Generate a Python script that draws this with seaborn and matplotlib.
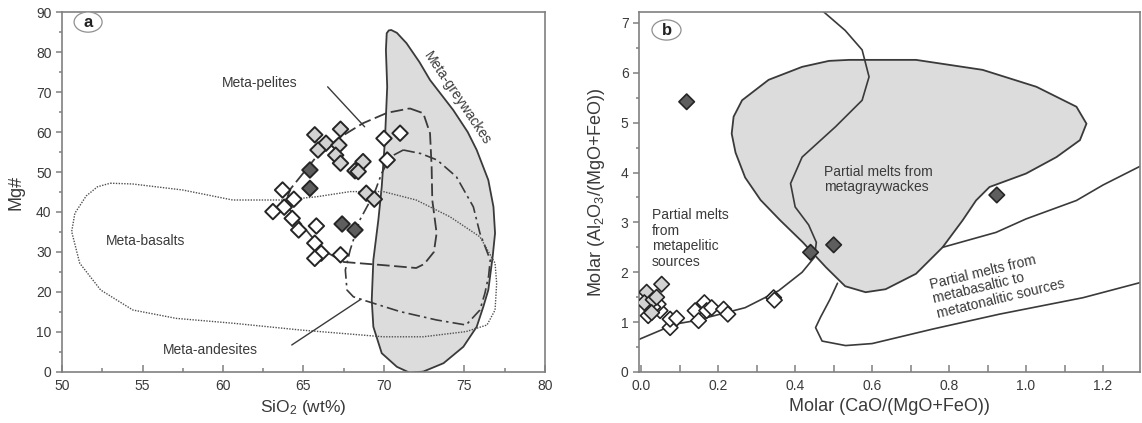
import numpy as np
import pandas as pd
import matplotlib
matplotlib.use("Agg")
import matplotlib.pyplot as plt
from matplotlib.patches import Ellipse, Polygon
from matplotlib.ticker import MultipleLocator, FormatStrFormatter
import seaborn as sns

# ---------------- sample data ----------------
# (a) SiO2 vs Mg#
a_light_x = [65.7, 67.3, 66.4, 65.9, 67.2, 67.0, 67.3, 68.7, 68.2, 68.4, 68.9, 69.4]
a_light_y = [59.3, 60.7, 57.2, 55.5, 56.7, 54.2, 52.2, 52.6, 50.3, 50.1, 44.7, 43.2]
a_white_x = [70.0, 71.0, 70.2, 63.7, 64.4, 63.8, 63.1, 64.3, 64.7, 65.8, 65.7, 66.1, 65.7, 67.3]
a_white_y = [58.4, 59.7, 53.0, 45.5, 43.2, 41.2, 40.1, 38.4, 35.5, 36.5, 32.2, 29.7, 28.4, 29.3]
a_dark_x = [65.4, 65.4, 67.4, 68.2]
a_dark_y = [50.5, 45.9, 37.0, 35.5]

# (b) molar CaO/(MgO+FeO) vs Al2O3/(MgO+FeO)
b_white_x = [0.049, 0.018, 0.075, 0.075, 0.092, 0.140, 0.149, 0.164, 0.170, 0.183,
             0.214, 0.225, 0.344, 0.346, 0.044, 0.030]
b_white_y = [1.23, 1.13, 0.89, 1.06, 1.08, 1.23, 1.03, 1.39, 1.23, 1.29,
             1.26, 1.16, 1.49, 1.44, 1.36, 1.30]
b_light_x = [0.014, 0.053, 0.008, 0.031, 0.027, 0.040]
b_light_y = [1.60, 1.76, 1.39, 1.45, 1.19, 1.50]
b_dark_x = [0.118, 0.440, 0.500, 0.924]
b_dark_y = [5.42, 2.40, 2.55, 3.55]

# ---------------- source-field outlines ----------------
greywacke_a = [(70.45, 85.5), (70.8, 84.8), (71.4, 82.2), (72.2, 77.5), (72.86, 73.0),
               (74.3, 65.5), (75.2, 60.0), (75.76, 55.5), (76.48, 48.0), (76.8, 41.3),
               (76.9, 34.7), (76.75, 28.8), (76.48, 20.5), (76.17, 16.3), (75.76, 11.3),
               (74.93, 6.3), (73.7, 2.2), (72.44, 0.1), (71.6, -0.2), (70.8, 1.3),
               (69.86, 4.7), (69.34, 11.3), (69.24, 18.0), (69.34, 28.0), (69.65, 38.0),
               (69.86, 46.3), (70.06, 58.0), (70.2, 71.3), (70.12, 80.5), (70.17, 84.7),
               (70.3, 85.4)]
pelites_a = [(71.6, 65.9), (72.44, 64.7), (72.86, 59.7), (72.96, 51.3), (73.0, 43.0),
             (73.27, 34.7), (73.1, 30.0), (72.5, 27.0), (72.0, 26.0), (70.0, 26.7),
             (67.5, 27.5), (66.2, 30.5), (65.0, 36.3), (64.4, 39.2), (63.85, 42.2),
             (64.2, 45.8), (65.8, 53.8), (67.2, 58.5), (68.7, 62.2), (70.2, 64.8),
             (71.6, 65.9)]
andesites_a = [(71.2, 55.5), (72.3, 54.6), (73.3, 53.0), (74.5, 48.8), (75.55, 41.3),
               (75.96, 34.7), (76.6, 28.0), (76.5, 24.0), (76.27, 19.7), (75.96, 15.5),
               (75.1, 11.75), (73.27, 13.0), (71.0, 15.1), (68.7, 18.0), (68.1, 18.8),
               (67.7, 20.5), (67.6, 25.5), (67.9, 30.5), (68.5, 38.0), (69.4, 44.7),
               (69.86, 49.7), (70.4, 53.8), (71.2, 55.5)]
basalts_a = [(53.0, 47.2), (54.4, 47.0), (57.5, 45.5), (60.6, 43.0), (63.75, 43.0),
             (65.8, 43.8), (67.9, 45.1), (69.96, 45.1), (72.0, 43.0), (74.1, 38.8),
             (75.96, 33.8), (76.9, 27.2), (77.0, 22.2), (76.9, 15.5), (76.4, 11.75),
             (75.1, 10.1), (72.44, 8.8), (69.96, 8.8), (64.8, 10.5), (60.6, 12.2),
             (57.1, 13.4), (54.4, 15.5), (52.4, 20.5), (51.1, 27.2), (50.6, 35.1),
             (50.8, 39.7), (51.5, 44.0), (52.2, 46.3), (53.0, 47.2)]

greywacke_b = [(0.235, 4.78), (0.240, 5.12), (0.262, 5.45), (0.331, 5.86), (0.418, 6.12),
               (0.488, 6.24), (0.540, 6.26), (0.714, 6.26), (0.887, 6.06), (1.027, 5.72),
               (1.131, 5.32), (1.157, 4.98), (1.140, 4.65), (1.079, 4.31), (1.000, 3.98),
               (0.905, 3.71), (0.870, 3.44), (0.835, 3.04), (0.783, 2.50), (0.714, 1.97),
               (0.635, 1.66), (0.583, 1.60), (0.530, 1.72), (0.480, 2.10), (0.420, 2.60),
               (0.360, 3.05), (0.310, 3.45), (0.270, 3.90), (0.245, 4.40)]
pelitic_b = [(0.47, 7.25), (0.53, 6.85), (0.574, 6.46), (0.592, 5.92), (0.574, 5.45),
             (0.505, 4.92), (0.418, 4.31), (0.388, 3.78), (0.400, 3.31), (0.435, 2.95),
             (0.455, 2.60), (0.450, 2.30), (0.418, 2.00), (0.357, 1.63), (0.270, 1.29),
             (0.140, 1.03), (0.088, 0.96), (-0.01, 0.64)]
basaltic_upper_b = [(0.783, 2.50), (0.922, 2.80), (1.000, 3.07), (1.131, 3.44),
                    (1.200, 3.75), (1.300, 4.14)]
basaltic_lower_b = [(0.510, 1.78), (0.490, 1.45), (0.466, 1.10), (0.453, 0.89),
                    (0.470, 0.62), (0.531, 0.53), (0.600, 0.57), (0.757, 0.86),
                    (0.931, 1.16), (1.148, 1.49), (1.300, 1.80)]

# ---------------- style ----------------
sns.set_theme(style="ticks")
plt.rcParams["font.family"] = ["Liberation Sans", "DejaVu Sans"]
plt.rcParams["mathtext.fontset"] = "custom"
plt.rcParams["mathtext.rm"] = "Liberation Sans"
plt.rcParams["mathtext.it"] = "Liberation Sans:italic"

EDGE = "#3a3a3a"
FILL = "#dcdcdc"
SPINE = "#808080"
TXT = "#3a3a3a"
palette = {"light": "#d2d2d2", "white": "#ffffff", "dark": "#5e5e5e"}


def samples(xw, yw, xl, yl, xd, yd):
    return pd.DataFrame({
        "x": list(xw) + list(xl) + list(xd),
        "y": list(yw) + list(yl) + list(yd),
        "group": ["white"] * len(xw) + ["light"] * len(xl) + ["dark"] * len(xd),
    })


def style_axes(ax):
    for sp in ax.spines.values():
        sp.set_visible(True)
        sp.set_color(SPINE)
        sp.set_linewidth(1.2)
    ax.tick_params(axis="both", which="both", colors=SPINE, labelcolor=TXT,
                   labelsize=10, width=1.1)
    ax.tick_params(axis="y", which="major", direction="out", length=4)
    ax.tick_params(axis="y", which="minor", direction="out", length=2)
    ax.tick_params(axis="x", which="major", direction="in", length=5, pad=5)
    ax.tick_params(axis="x", which="minor", direction="in", length=3)


def panel_tag(ax, letter, cx, cy):
    ax.add_patch(Ellipse((cx, cy), 0.058, 0.056, transform=ax.transAxes,
                         facecolor="white", edgecolor="#909090", lw=0.9, zorder=6))
    ax.text(cx, cy, letter, transform=ax.transAxes, ha="center", va="center",
            fontsize=12, fontweight="bold", color="#222222", zorder=7)


fig = plt.figure(figsize=(11.42, 4.23), dpi=100)
ax1 = fig.add_axes([0.0543, 0.1206, 0.4229, 0.8510])
ax2 = fig.add_axes([0.5595, 0.1206, 0.4387, 0.8510])

# ---------------- panel (a) ----------------
ax1.add_patch(Polygon(greywacke_a, closed=True, facecolor=FILL, edgecolor=EDGE,
                      lw=1.3, zorder=1))
px, py = zip(*pelites_a)
ax1.plot(px, py, color=EDGE, lw=1.3, dashes=(7, 2.5), zorder=2)
px, py = zip(*andesites_a)
ax1.plot(px, py, color=EDGE, lw=1.2, dashes=(7, 2.5, 1.5, 2.5), zorder=2)
px, py = zip(*basalts_a)
ax1.plot(px, py, color="#505050", lw=1.0, dashes=(1, 1), zorder=2)

df_a = samples(a_white_x, a_white_y, a_light_x, a_light_y, a_dark_x, a_dark_y)
sns.scatterplot(data=df_a, x="x", y="y", hue="group", palette=palette, marker="D",
                s=62, edgecolor="#252525", linewidth=1.4, legend=False, ax=ax1,
                zorder=4)

ax1.text(62.3, 72.3, "Meta-pelites", fontsize=10, color=TXT, ha="center", va="center")
ax1.plot([66.5, 68.8], [71.3, 61.3], color=EDGE, lw=1.0, zorder=3)
ax1.text(74.55, 68.4, "Meta-greywackes", fontsize=10, color=TXT, ha="center",
         va="center", rotation=-56, rotation_mode="anchor")
ax1.text(55.2, 32.8, "Meta-basalts", fontsize=10, color=TXT, ha="center", va="center")
ax1.text(59.2, 5.5, "Meta-andesites", fontsize=10, color=TXT, ha="center", va="center")
ax1.plot([64.27, 68.57], [6.75, 18.2], color=EDGE, lw=1.0, zorder=3)

ax1.set_xlim(50, 80)
ax1.set_ylim(0, 90)
ax1.xaxis.set_major_locator(MultipleLocator(5))
ax1.xaxis.set_minor_locator(MultipleLocator(2.5))
ax1.yaxis.set_major_locator(MultipleLocator(10))
ax1.yaxis.set_minor_locator(MultipleLocator(5))
ax1.set_xlabel("SiO$_2$ (wt%)", fontsize=12.5, color=TXT, labelpad=4)
ax1.set_ylabel("Mg#", fontsize=13, color=TXT, labelpad=8)
style_axes(ax1)
panel_tag(ax1, "a", 0.054, 0.972)

# ---------------- panel (b) ----------------
ax2.add_patch(Polygon(greywacke_b, closed=True, facecolor=FILL, edgecolor=EDGE,
                      lw=1.3, zorder=1))
for line in (pelitic_b, basaltic_upper_b, basaltic_lower_b):
    lx, ly = zip(*line)
    ax2.plot(lx, ly, color=EDGE, lw=1.2, zorder=2)

df_b = samples(b_white_x, b_white_y, b_light_x, b_light_y, b_dark_x, b_dark_y)
sns.scatterplot(data=df_b, x="x", y="y", hue="group", palette=palette, marker="D",
                s=62, edgecolor="#252525", linewidth=1.2, legend=False, ax=ax2,
                zorder=4)

ax2.text(0.027, 2.68, "Partial melts\nfrom\nmetapelitic\nsources", fontsize=10,
         color=TXT, ha="left", va="center", linespacing=1.15)
ax2.text(0.475, 3.86, "Partial melts from\nmetagraywackes", fontsize=10,
         color=TXT, ha="left", va="center", linespacing=1.15)
ax2.text(0.925, 1.76, "Partial melts from\nmetabasaltic to\nmetatonalitic sources",
         fontsize=10, color=TXT, ha="center", va="center", multialignment="left",
         rotation=13.5, rotation_mode="anchor", linespacing=1.1)

ax2.set_xlim(-0.006, 1.296)
ax2.set_ylim(0, 7.22)
ax2.xaxis.set_major_locator(MultipleLocator(0.2))
ax2.xaxis.set_minor_locator(MultipleLocator(0.1))
ax2.yaxis.set_major_locator(MultipleLocator(1))
ax2.yaxis.set_minor_locator(MultipleLocator(0.5))
ax2.xaxis.set_major_formatter(FormatStrFormatter("%.1f"))
ax2.set_xlabel("Molar (CaO/(MgO+FeO))", fontsize=13, color=TXT, labelpad=4)
ax2.set_ylabel("Molar (Al$_2$O$_3$/(MgO+FeO))", fontsize=13, color=TXT, labelpad=10)
style_axes(ax2)
ax2.tick_params(axis="x", which="minor", length=5)
panel_tag(ax2, "b", 0.055, 0.95)

fig.savefig("out.png", dpi=100, facecolor="white")
